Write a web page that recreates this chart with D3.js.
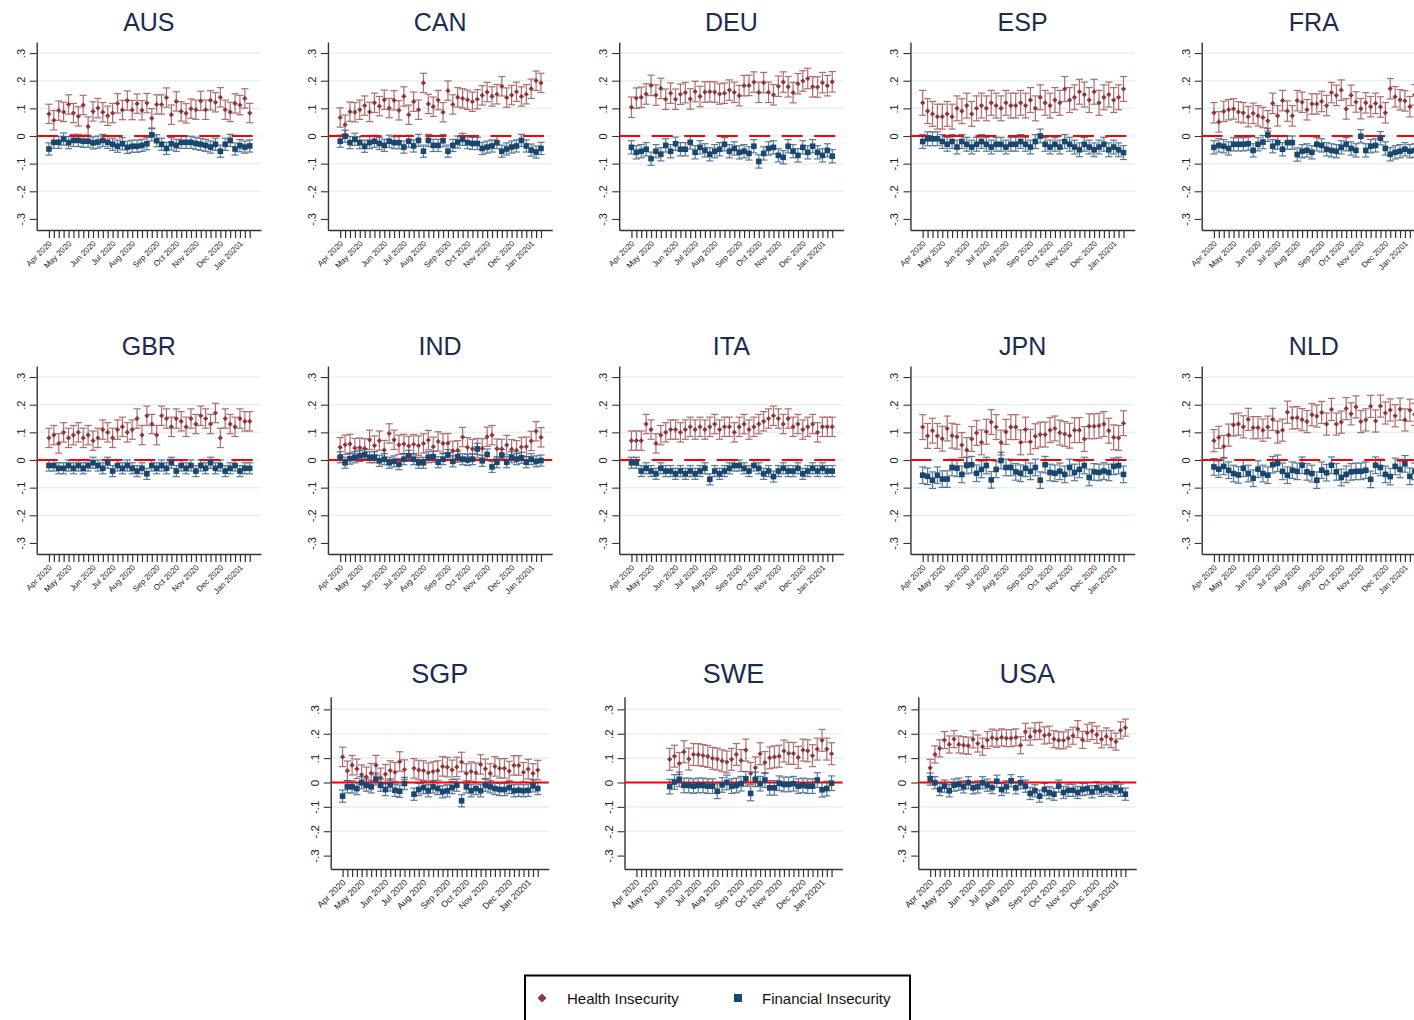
<!DOCTYPE html>
<html>
<head>
<meta charset="utf-8">
<script src="https://cdn.jsdelivr.net/npm/d3@7"></script>
<style>
body{margin:0;background:#fff;}
text{font-family:"Liberation Sans",Arial,sans-serif;}
</style>
</head>
<body>
<svg id="chart"></svg>
<script>
// data

var countries=["AUS","CAN","DEU","ESP","FRA","GBR","IND","ITA","JPN","NLD","SGP","SWE","USA"];
var nWeeks=42;
var monthTicks=[0,4,9,13,17,22,26,30,35,39];
var monthLabels=["Apr 2020","May 2020","Jun 2020","Jul 2020","Aug 2020","Sep 2020","Oct 2020","Nov 2020","Dec 2020","Jan 20201"];
var yTicks=[-0.3,-0.2,-0.1,0,0.1,0.2,0.3];
var gridTicks=[-0.2,-0.1,0,0.1,0.2,0.3];
var startWeek=[0,0,0,0,0,0,0,0,0,0,0,7,0];
var ciHealth=[0.035,0.035,0.037,0.045,0.037,0.035,0.035,0.035,0.045,0.04,0.04,0.045,0.035];
var ciFin=[0.022,0.022,0.024,0.025,0.024,0.02,0.02,0.02,0.03,0.03,0.025,0.03,0.025];
var solidZero=["IND","SGP","SWE","USA"];

var healthAUS=[.080,.057,.092,.087,.114,.083,.071,.112,.034,.089,.101,.086,.073,.083,.118,.094,.128,.094,.117,.093,.119,.064,.114,.114,.139,.077,.125,.089,.082,.099,.095,.127,.095,.129,.122,.140,.095,.087,.118,.112,.136,.083];
var finAUS=[-.047,-.023,-.023,-.011,-.024,-.016,-.016,-.019,-.019,-.025,-.022,-.016,-.023,-.030,-.037,-.028,-.041,-.037,-.037,-.034,-.028,.004,-.017,-.030,-.045,-.028,-.034,-.023,-.023,-.023,-.027,-.030,-.034,-.040,-.030,-.055,-.030,-.016,-.047,-.035,-.040,-.036];
var healthCAN=[.067,.041,.088,.086,.095,.110,.087,.120,.108,.131,.101,.129,.093,.143,.077,.124,.095,.192,.116,.106,.130,.086,.164,.114,.140,.136,.131,.124,.133,.147,.159,.143,.151,.180,.139,.148,.160,.143,.151,.171,.200,.192];
var finCAN=[-.019,-.001,-.024,-.012,-.024,-.037,-.024,-.019,-.027,-.034,-.019,-.024,-.024,-.040,-.019,-.036,-.016,-.055,-.016,-.034,-.034,-.017,-.055,-.034,-.022,-.012,-.024,-.027,-.027,-.045,-.040,-.036,-.024,-.055,-.047,-.040,-.036,-.016,-.036,-.051,-.058,-.045];
var healthDEU=[.104,.137,.140,.152,.183,.148,.172,.133,.155,.133,.151,.157,.134,.161,.143,.159,.160,.159,.152,.155,.166,.158,.146,.182,.183,.195,.158,.193,.158,.149,.180,.195,.178,.157,.189,.199,.208,.178,.177,.193,.182,.196];
var finDEU=[-.041,-.059,-.055,-.048,-.082,-.055,-.066,-.034,-.055,-.028,-.048,-.048,-.023,-.059,-.041,-.052,-.066,-.055,-.048,-.030,-.055,-.045,-.059,-.055,-.063,-.037,-.092,-.063,-.045,-.041,-.070,-.077,-.037,-.055,-.070,-.041,-.059,-.037,-.059,-.070,-.052,-.073];
var healthESP=[.12,.09,.08,.07,.07,.08,.07,.10,.09,.11,.08,.10,.11,.10,.12,.11,.10,.12,.11,.11,.12,.11,.13,.10,.14,.12,.11,.13,.12,.17,.13,.14,.16,.15,.13,.16,.12,.14,.15,.13,.14,.17];
var finESP=[-.02,-.01,-.01,-.01,-.02,-.03,-.02,-.04,-.02,-.03,-.04,-.03,-.02,-.03,-.04,-.03,-.03,-.04,-.03,-.03,-.02,-.03,-.04,-.02,.00,-.03,-.04,-.03,-.04,-.02,-.03,-.04,-.05,-.03,-.04,-.05,-.04,-.03,-.05,-.04,-.05,-.06];
var healthFRA=[.084,.051,.089,.095,.098,.087,.084,.070,.082,.073,.067,.055,.118,.073,.128,.090,.073,.128,.122,.095,.116,.116,.125,.110,.157,.147,.166,.098,.147,.123,.099,.120,.106,.118,.105,.084,.171,.142,.131,.127,.106,.149];
var finFRA=[-.041,-.034,-.037,-.045,-.030,-.030,-.030,-.028,-.052,-.030,-.022,.004,-.037,-.024,-.048,-.024,-.024,-.067,-.055,-.052,-.059,-.030,-.034,-.048,-.052,-.055,-.041,-.030,-.045,-.052,-.001,-.052,-.037,-.034,-.008,-.045,-.066,-.059,-.055,-.048,-.055,-.052];
var healthGBR=[.08,.09,.06,.10,.08,.09,.10,.08,.09,.07,.08,.11,.10,.08,.11,.12,.10,.11,.15,.09,.16,.13,.09,.16,.15,.12,.15,.14,.12,.15,.13,.16,.15,.13,.17,.08,.15,.13,.12,.15,.14,.14];
var finGBR=[-.02,-.02,-.03,-.03,-.02,-.03,-.02,-.03,-.02,-.01,-.02,-.03,-.01,-.04,-.02,-.03,-.02,-.03,-.04,-.03,-.05,-.02,-.03,-.02,-.03,-.01,-.04,-.02,-.03,-.02,-.04,-.02,-.03,-.01,-.03,-.02,-.04,-.03,-.02,-.04,-.03,-.03];
var healthIND=[.046,.055,.058,.043,.045,.042,.073,.052,.070,.036,.096,.073,.055,.058,.051,.057,.052,.060,.072,.048,.067,.060,.061,.033,.035,.083,.046,.040,.043,.042,.084,.090,.041,.040,.054,.039,.035,.047,.048,.069,.104,.082];
var finIND=[.01,-.01,.005,.01,.015,.02,.01,.01,-.003,.003,-.01,-.005,-.015,.003,.015,.003,-.01,-.01,.01,.012,-.008,.003,.018,-.005,.012,.003,0,.003,.04,-.003,.02,-.025,-.008,.018,-.008,.01,.003,.008,-.008,.003,-.005,-.002];
var healthITA=[.07,.07,.07,.13,.11,.06,.09,.10,.11,.11,.10,.11,.12,.11,.12,.11,.12,.13,.11,.12,.12,.10,.12,.13,.11,.12,.13,.14,.15,.16,.15,.13,.15,.12,.13,.11,.12,.13,.10,.12,.12,.12];
var finITA=[-.01,-.01,-.04,-.03,-.04,-.05,-.03,-.04,-.04,-.05,-.04,-.05,-.04,-.05,-.04,-.03,-.07,-.04,-.05,-.04,-.03,-.02,-.02,-.03,-.04,-.02,-.03,-.05,-.04,-.06,-.04,-.03,-.04,-.04,-.03,-.05,-.04,-.03,-.04,-.03,-.04,-.04];
var healthJPN=[.119,.087,.106,.087,.077,.114,.088,.084,.054,.036,.076,.098,.064,.102,.137,.119,.063,.102,.119,.119,.064,.110,.066,.086,.092,.092,.108,.114,.099,.094,.088,.108,.108,.076,.122,.122,.124,.130,.106,.082,.080,.133];
var finJPN=[-.055,-.059,-.073,-.055,-.069,-.069,-.027,-.030,-.052,-.020,-.017,-.048,-.034,-.020,-.072,-.034,-.002,-.027,-.027,-.043,-.048,-.030,-.041,-.027,-.073,-.017,-.045,-.048,-.041,-.052,-.027,-.045,-.034,-.020,-.063,-.043,-.045,-.040,-.045,-.023,-.020,-.052];
var healthNLD=[.070,.082,.049,.090,.127,.130,.120,.147,.117,.117,.108,.119,.147,.101,.108,.173,.152,.153,.146,.139,.164,.159,.172,.130,.183,.130,.137,.186,.167,.192,.139,.145,.194,.141,.195,.170,.181,.160,.184,.145,.180,.165];
var finNLD=[-.025,-.033,-.023,-.037,-.049,-.054,-.030,-.049,-.066,-.033,-.049,-.055,-.017,-.012,-.041,-.055,-.037,-.041,-.019,-.043,-.049,-.073,-.037,-.046,-.019,-.043,-.063,-.052,-.043,-.041,-.041,-.037,-.070,-.019,-.027,-.052,-.060,-.023,-.034,-.014,-.059,-.041];
var healthSGP=[.105,.048,.071,.056,.032,.023,.038,.071,.019,.034,.049,.042,.086,.053,null,.058,.051,.049,.040,.045,.049,.066,.063,.052,.064,.084,.037,.045,.040,.074,.056,.037,.066,.058,.058,.047,.070,.070,.042,.055,.037,.051];
var finSGP=[-.056,-.018,-.018,-.025,-.001,-.011,-.018,.014,-.011,-.029,-.010,-.032,-.036,-.004,null,-.048,-.029,-.021,-.034,-.018,-.025,-.038,-.034,-.021,-.011,-.075,-.018,-.034,-.025,-.034,-.011,-.018,-.025,-.029,-.029,-.021,-.034,-.032,-.034,-.032,-.014,-.025];
var healthSWE=[.095,.108,.078,.126,.096,.115,.114,.111,.107,.099,.096,.089,.084,.095,.115,.090,.133,.037,.060,.118,.082,.101,.105,.108,.129,.120,.119,.103,.133,.130,.110,.137,.173,.137,.118];
var finSWE=[-.017,.002,.013,-.012,-.012,-.015,-.012,-.012,-.015,-.015,-.036,-.010,.000,-.015,-.012,-.005,.015,-.045,.013,-.005,.010,-.022,-.022,-.003,-.008,-.008,-.005,-.015,-.012,-.015,-.015,.010,-.030,-.025,-.003];
var healthUSA=[.060,.115,.140,.174,.156,.178,.156,.153,.151,.177,.160,.147,.174,.184,.179,.185,.182,.182,.185,.153,.208,.188,.210,.212,.193,.196,.178,.173,.173,.181,.192,.219,.175,.204,.211,.196,.177,.189,.178,.168,.214,.225];
var finUSA=[.014,-.001,-.029,-.015,-.034,-.011,-.007,-.018,-.001,-.022,-.018,-.001,-.011,-.021,.005,-.029,-.018,.007,-.022,-.001,-.015,-.045,-.034,-.056,-.029,-.042,-.048,-.015,-.041,-.032,-.032,-.041,-.029,-.025,-.038,-.022,-.032,-.025,-.032,-.021,-.032,-.048];

var healthSeries=[healthAUS,healthCAN,healthDEU,healthESP,healthFRA,healthGBR,healthIND,healthITA,healthJPN,healthNLD,healthSGP,healthSWE,healthUSA];
var finSeries=[finAUS,finCAN,finDEU,finESP,finFRA,finGBR,finIND,finITA,finJPN,finNLD,finSGP,finSWE,finUSA];

// colours
var maroon="#90353b", navy="#1a476f", titleCol="#1c2b51";

var W=1414,H=1020;
var svg=d3.select("#chart").attr("width",W).attr("height",H).style("display","block");
svg.append("rect").attr("width",W).attr("height",H).attr("fill","#fff");

function yFmt(v) {
	if (Math.abs(v)<1e-9) return "0";
	return (v<0?"-":"")+String(Math.abs(v).toFixed(1)).replace(/^0/,"");
}

function panelBox(i) {
	if (i<10) {
		var row=i<5?0:1, col=i%5;
		return {x:36.7+col*291.25, y:42+row*324, w:224.3, h:188, dom:[-0.34,0.34], tSize:25, tY:-11, yFont:11, xFont:8};
	}
	var c=i-10;
	return {x:330.7+c*293.8, y:696.7, w:218, h:172.3, dom:[-0.355,0.352], tSize:27, tY:-13.5, yFont:11.5, xFont:8.8};
}

countries.forEach(function(name,i) {
	var b=panelBox(i);
	var g=svg.append("g").attr("transform","translate("+b.x+","+b.y+")");
	var x=d3.scaleLinear().domain([-2.5,43.3]).range([0,b.w]);
	var y=d3.scaleLinear().domain(b.dom).range([b.h,0]);

	g.append("text").attr("x",b.w/2).attr("y",b.tY).attr("text-anchor","middle")
		.style("font-size",b.tSize+"px").style("fill",titleCol).text(name);

	g.selectAll(".grid").data(gridTicks).enter().append("line")
		.attr("x1",0).attr("x2",b.w)
		.attr("y1",function(d) {return y(d);}).attr("y2",function(d) {return y(d);})
		.style("stroke","#e8f0f2").style("stroke-width",1.6);

	// y axis
	var ya=g.append("g").call(d3.axisLeft(y).tickValues(yTicks).tickSize(7).tickSizeOuter(0).tickFormat(yFmt));
	ya.select(".domain").style("stroke","#333").style("stroke-width",1.4);
	ya.selectAll(".tick line").style("stroke","#333").style("stroke-width",1.1);
	ya.selectAll(".tick text").attr("x",0).attr("dy",0)
		.attr("transform","translate(-12,0) rotate(-90)")
		.style("text-anchor","middle").style("font-size",b.yFont+"px").style("fill","#222")
		.style("font-family","'Liberation Sans',Arial,sans-serif");

	// x axis
	var xa=g.append("g").attr("transform","translate(0,"+b.h+")")
		.call(d3.axisBottom(x).tickValues(d3.range(nWeeks)).tickSize(8).tickSizeOuter(0)
			.tickFormat(function(d) {var k=monthTicks.indexOf(d); return k<0?"":monthLabels[k];}));
	xa.select(".domain").style("stroke","#333").style("stroke-width",1.4);
	xa.selectAll(".tick line").style("stroke","#333").style("stroke-width",1.2);
	xa.selectAll(".tick text").attr("x",0).attr("y",0).attr("dy",0)
		.attr("transform","translate(3,14) rotate(-45)")
		.style("text-anchor","end").style("font-size",b.xFont+"px").style("fill","#222")
		.style("font-family","'Liberation Sans',Arial,sans-serif");

	// points
	var s0=startWeek[i];
	var hData=[],fData=[];
	healthSeries[i].forEach(function(v,k) {if(v!==null) hData.push({w:s0+k,v:v,ci:ciHealth[i]});});
	finSeries[i].forEach(function(v,k) {if(v!==null) fData.push({w:s0+k,v:v,ci:ciFin[i]});});

	function drawCI(data,col) {
		var e=g.append("g").style("stroke",col).style("stroke-width",1.2).style("opacity",0.72);
		data.forEach(function(d) {
			var cx=x(d.w), y1=y(d.v-d.ci), y2=y(d.v+d.ci);
			e.append("line").attr("x1",cx).attr("x2",cx).attr("y1",y1).attr("y2",y2);
			e.append("line").attr("x1",cx-3.6).attr("x2",cx+3.6).attr("y1",y1).attr("y2",y1);
			e.append("line").attr("x1",cx-3.6).attr("x2",cx+3.6).attr("y1",y2).attr("y2",y2);
		});
	}
	drawCI(hData,maroon);
	drawCI(fData,navy);

	g.append("line").attr("x1",0).attr("x2",b.w).attr("y1",y(0)).attr("y2",y(0))
		.style("stroke","#ff0000").style("stroke-width",2)
		.style("stroke-dasharray",solidZero.indexOf(name)>=0?null:"21 11.5");

	g.selectAll(".hpt").data(hData).enter().append("path")
		.attr("d","M0,-2.6L2.6,0L0,2.6L-2.6,0Z")
		.attr("transform",function(d) {return "translate("+x(d.w)+","+y(d.v)+")";})
		.style("fill",maroon);
	g.selectAll(".fpt").data(fData).enter().append("rect")
		.attr("x",function(d) {return x(d.w)-2.8;}).attr("y",function(d) {return y(d.v)-2.8;})
		.attr("width",5.6).attr("height",5.6)
		.style("fill",navy);
});

// legend
var lg=svg.append("g");
lg.append("rect").attr("x",525).attr("y",975.5).attr("width",385).attr("height",60)
	.style("fill","#fff").style("stroke","#000").style("stroke-width",2);
lg.append("path").attr("d","M0,-4.5L4.5,0L0,4.5L-4.5,0Z").attr("transform","translate(542,998)").style("fill",maroon);
lg.append("text").attr("x",567).attr("y",1004).style("font-size","15px").style("fill","#111").text("Health Insecurity");
lg.append("rect").attr("x",734).attr("y",994).attr("width",8).attr("height",8).style("fill",navy);
lg.append("text").attr("x",762).attr("y",1004).style("font-size","15px").style("fill","#111").text("Financial Insecurity");
</script>
</body>
</html>
